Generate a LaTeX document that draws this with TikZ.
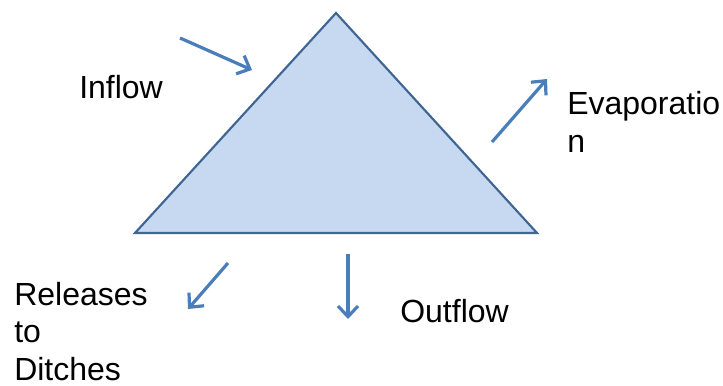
\documentclass[tikz,border=0pt]{standalone}
\usepackage{fontspec}
\setmainfont{Liberation Sans}
\usetikzlibrary{arrows.meta}
\definecolor{trifill}{HTML}{C6D9F1}
\definecolor{triline}{HTML}{3F6592}
\definecolor{arrowblue}{HTML}{4A7EBB}
\tikzset{
  flowarrow/.style={draw=arrowblue, line width=2.4pt, -{Straight Barb[length=8pt,width=15pt]}},
  lbl/.style={anchor=base west, inner sep=0pt, align=left, font=\fontsize{24}{28}\selectfont}
}
\begin{document}
\begin{tikzpicture}[x=0.75pt,y=-0.75pt]
\useasboundingbox (0,0) rectangle (723,385);
% triangle
\coordinate (apex) at (336,13);
\coordinate (bl) at (135,233);
\coordinate (br) at (537,233);
\draw[fill=trifill, draw=triline, line width=1.6pt, line join=miter] (apex) -- (br) -- (bl) -- cycle;
% arrows
\coordinate (in1) at (180,38);
\coordinate (in2) at (252,70);
\draw[flowarrow] (in1) -- (in2);
\coordinate (ev1) at (492,142);
\coordinate (ev2) at (547,79);
\draw[flowarrow] (ev1) -- (ev2);
\coordinate (re1) at (228,263);
\coordinate (re2) at (188,309);
\draw[flowarrow] (re1) -- (re2);
\coordinate (out1) at (348,254);
\coordinate (out2) at (348,319);
\draw[flowarrow] (out1) -- (out2);
% labels (base anchor of a multi-line node is its last line)
\node[lbl] (inflow) at (79,98) {Inflow};
\node[lbl] (evap) at (567,152) {Evaporatio\\n};
\node[lbl] (rel) at (14,380) {Releases\\to\\Ditches};
\node[lbl] (outflow) at (400,322) {Outflow};
\end{tikzpicture}
\end{document}
